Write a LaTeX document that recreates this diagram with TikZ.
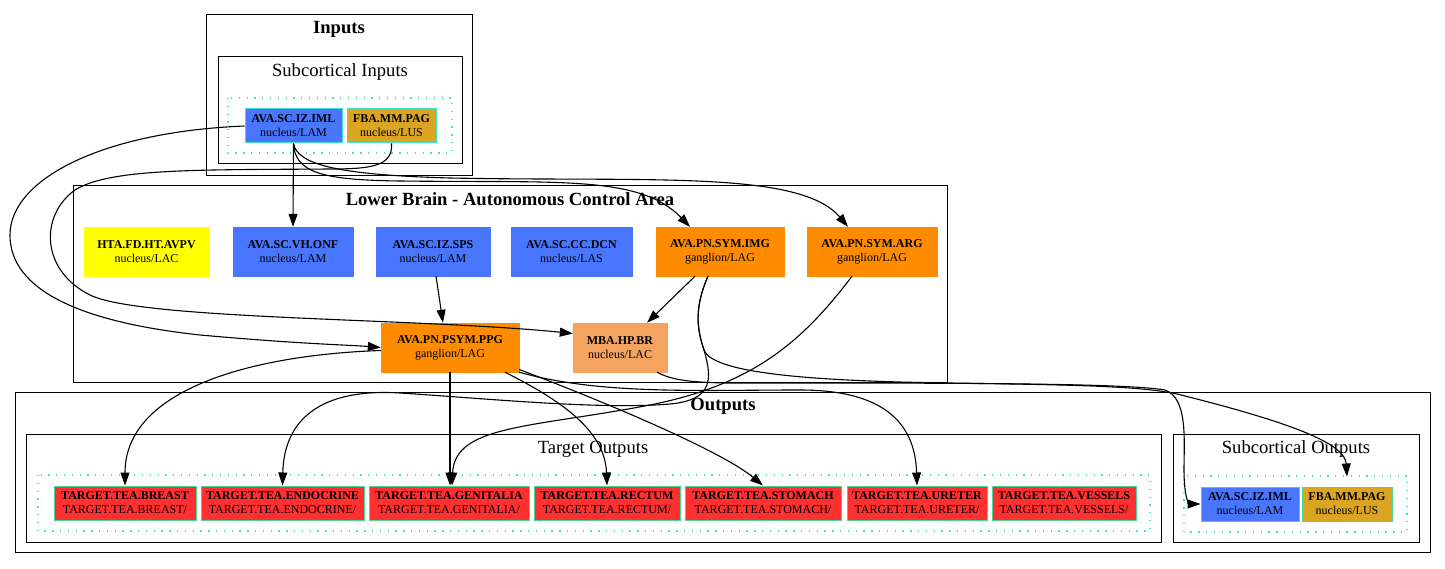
\documentclass[tikz,border=0pt]{standalone}
\usepackage{fontspec}
\setmainfont{Liberation Serif}
\usetikzlibrary{arrows.meta,calc}
\definecolor{blueN}{RGB}{72,118,255}
\definecolor{goldN}{RGB}{218,165,32}
\definecolor{yellowN}{RGB}{255,255,0}
\definecolor{orangeN}{RGB}{255,140,0}
\definecolor{sandyN}{RGB}{244,164,96}
\definecolor{redN}{RGB}{255,48,48}
\definecolor{turq}{RGB}{64,224,208}
\definecolor{nborder}{RGB}{72,214,150}
\tikzset{
  cluster/.style={draw=black, line width=1pt},
  ctitleb/.style={font=\fontsize{18.6}{20}\selectfont\bfseries, inner sep=0pt},
  ctitle/.style={font=\fontsize{18.6}{20}\selectfont, inner sep=0pt},
  dotbox/.style={draw=turq, line width=1.3pt, dash pattern=on 1.3pt off 6.5pt},
  nd/.style={rectangle, inner sep=0pt, align=center, font=\fontsize{12}{14}\selectfont},
  lbnode/.style={nd, minimum height=49pt, draw=#1, fill=#1},
  bnode/.style={nd, minimum height=34pt, draw=nborder, line width=1pt, fill=#1},
  edge/.style={draw=black, line width=1.1pt, -{Triangle[length=13pt,width=9pt]}}
}
\begin{document}
\begin{tikzpicture}[x=1pt,y=-1pt]
\useasboundingbox (0,0) rectangle (1445,569);
\fill[white] (0,0) rectangle (1445,569);

% clusters
\draw[cluster] (206,15) rectangle (472,176);
\node[ctitleb] (tInputs) at (339,29) {Inputs};
\draw[cluster] (218,57) rectangle (462,164);
\node[ctitle] (tSubIn) at (340,72) {Subcortical Inputs};
\draw[dotbox] (228,98) rectangle (452,153);

\draw[cluster] (73,186) rectangle (947,382);
\node[ctitleb] (tLower) at (510,199) {Lower Brain - Autonomous Control Area};

\draw[cluster] (15,392) rectangle (1430,552);
\node[ctitleb] (tOut) at (723,406) {Outputs};
\draw[cluster] (26,434) rectangle (1161,542);
\node[ctitle] (tTarget) at (593,449) {Target Outputs};
\draw[dotbox] (38,475) rectangle (1150,531);
\draw[cluster] (1173,434) rectangle (1419,542);
\node[ctitle] (tSubOut) at (1296,449) {Subcortical Outputs};
\draw[dotbox] (1184,476) rectangle (1407,532);

% input nodes
\node[bnode=blueN, minimum width=97pt, draw=turq] (inIML) at (293.5,126) {\textbf{AVA.SC.IZ.IML}\\nucleus/LAM};
\node[bnode=goldN, minimum width=89pt, draw=turq] (inFBA) at (391.5,126) {\textbf{FBA.MM.PAG}\\nucleus/LUS};

% lower brain nodes
\node[lbnode=yellowN, minimum width=125pt] (avpv) at (146.5,251.5) {\textbf{HTA.FD.HT.AVPV}\\nucleus/LAC};
\node[lbnode=blueN, minimum width=120pt] (onf) at (293,251.5) {\textbf{AVA.SC.VH.ONF}\\nucleus/LAM};
\node[lbnode=blueN, minimum width=114pt] (sps) at (433,251.5) {\textbf{AVA.SC.IZ.SPS}\\nucleus/LAM};
\node[lbnode=blueN, minimum width=121pt] (dcn) at (571.5,251.5) {\textbf{AVA.SC.CC.DCN}\\nucleus/LAS};
\node[lbnode=orangeN, minimum width=128pt] (img) at (720,251.5) {\textbf{AVA.PN.SYM.IMG}\\ganglion/LAG};
\node[lbnode=orangeN, minimum width=130pt] (arg) at (872,251.5) {\textbf{AVA.PN.SYM.ARG}\\ganglion/LAG};
\node[lbnode=orangeN, minimum width=138pt] (ppg) at (450,347.5) {\textbf{AVA.PN.PSYM.PPG}\\ganglion/LAG};
\node[lbnode=sandyN, minimum width=94pt] (mba) at (620,347.5) {\textbf{MBA.HP.BR}\\nucleus/LAC};

% target nodes
\node[bnode=redN, minimum width=142pt] (breast) at (125,503) {\textbf{TARGET.TEA.BREAST}\\TARGET.TEA.BREAST/};
\node[bnode=redN, minimum width=163pt] (endo) at (282.5,503) {\textbf{TARGET.TEA.ENDOCRINE}\\TARGET.TEA.ENDOCRINE/};
\node[bnode=redN, minimum width=160pt] (gen) at (449,503) {\textbf{TARGET.TEA.GENITALIA}\\TARGET.TEA.GENITALIA/};
\node[bnode=redN, minimum width=146pt] (rect) at (607,503) {\textbf{TARGET.TEA.RECTUM}\\TARGET.TEA.RECTUM/};
\node[bnode=redN, minimum width=156pt] (stom) at (763,503) {\textbf{TARGET.TEA.STOMACH}\\TARGET.TEA.STOMACH/};
\node[bnode=redN, minimum width=140pt] (uret) at (917,503) {\textbf{TARGET.TEA.URETER}\\TARGET.TEA.URETER/};
\node[bnode=redN, minimum width=144pt] (vess) at (1064,503) {\textbf{TARGET.TEA.VESSELS}\\TARGET.TEA.VESSELS/};

% subcortical outputs
\node[bnode=blueN, minimum width=98pt] (outIML) at (1250,504) {\textbf{AVA.SC.IZ.IML}\\nucleus/LAM};
\node[bnode=goldN, minimum width=90pt] (outFBA) at (1347,504) {\textbf{FBA.MM.PAG}\\nucleus/LUS};

% edges
\draw[edge] (inIML.south) -- (onf.north);
\draw[edge] (inIML.south) .. controls (295,172) and (320,180) .. (400,181)
  .. controls (560,183) and (640,175) .. ([xshift=-30pt]img.north);
\draw[edge] (inIML.south) .. controls (297,165) and (340,175) .. (450,178)
  .. controls (650,182) and (800,170) .. ([xshift=-24pt]arg.north);
\draw[edge] (inIML.west) .. controls (100,132) and (10,180) .. (10,235)
  .. controls (10,290) and (80,322) .. (200,335)
  .. controls (300,344) and (350,345) .. (ppg.west);
\draw[edge] (inFBA.south) .. controls (393,166) and (372,169) .. (330,169)
  .. controls (200,170) and (110,168) .. (75,190)
  .. controls (40,215) and (40,270) .. (90,295)
  .. controls (140,320) and (420,318) .. ([yshift=14pt]mba.west);
\draw[edge] ([xshift=3pt]sps.south) -- ([xshift=-7pt]ppg.north);
\draw[edge] ([xshift=-25pt]img.south) -- ([xshift=27pt]mba.north);
\draw[edge] ([xshift=-12pt]img.south) .. controls (693,310) and (698,332) .. (704,350)
  .. controls (712,378) and (714,400) .. (670,404)
  .. controls (600,410) and (480,398) .. (400,393)
  .. controls (320,388) and (284,420) .. (endo.north);
\draw[edge] ([xshift=-12pt]img.south) .. controls (693,310) and (698,332) .. (704,350)
  .. controls (712,372) and (800,381) .. (950,383)
  .. controls (1080,385) and (1150,386) .. (1185,396)
  .. controls (1300,425) and (1345,445) .. ([yshift=10pt]outFBA.north);
\draw[edge] ([xshift=37pt]mba.south) .. controls (680,385) and (720,383) .. (800,383)
  .. controls (1000,383) and (1130,384) .. (1165,390)
  .. controls (1188,398) and (1184,440) .. (1184,470)
  .. controls (1184,500) and (1190,504) .. (outIML.west);
\draw[edge] ([xshift=-20pt]arg.south) .. controls (800,345) and (750,385) .. (650,405)
  .. controls (530,428) and (455,425) .. ([xshift=3pt]gen.north);
\draw[edge] ([yshift=-3pt]ppg.west) .. controls (250,355) and (125,390) .. (breast.north);
\draw[edge] (ppg.south) -- (ppg.south |- gen.north);
\draw[edge] ([xshift=55pt]ppg.south) .. controls (560,400) and (605,430) .. (rect.north);
\draw[edge] ([yshift=-22pt]ppg.east) .. controls (600,400) and (720,450) .. (stom.north);
\draw[edge] (ppg.south east) .. controls (600,395) and (700,390) .. (800,390)
  .. controls (880,390) and (915,420) .. (uret.north);
\end{tikzpicture}
\end{document}
